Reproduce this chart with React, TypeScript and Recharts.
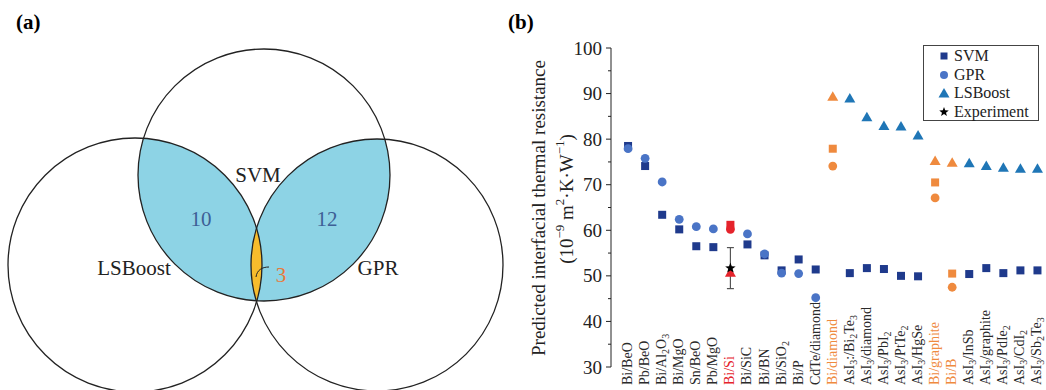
import React from 'react';
import { ScatterChart, Scatter, XAxis, YAxis, Legend, ErrorBar, Surface } from 'recharts';

const SERIF = '"Liberation Serif", "Times New Roman", serif';

// ---- (a) Venn counts ----
const vennSets = ['SVM', 'LSBoost', 'GPR'];
const vennCounts = { svmLsboost: 10, svmGpr: 12, all: 3 };

// ---- (b) predicted interfacial thermal resistance ----
const categories = [
  'Bi/BeO', 'Pb/BeO', 'Bi/Al2O3', 'Bi/MgO', 'Sn/BeO', 'Pb/MgO', 'Bi/Si', 'Bi/SiC', 'Bi/BN',
  'Bi/SiO2', 'Bi/P', 'CdTe/diamond', 'Bi/diamond', 'AsI3:/Bi2Te3', 'AsI3/diamond', 'AsI3/PbI2',
  'AsI3/PtTe2', 'AsI3/HgSe', 'Bi/graphite', 'Bi/B', 'AsI3/InSb', 'AsI3/graphite', 'AsI3/PdIe2',
  'AsI3/CdI2', 'AsI3/Sb2Te3',
];
const svmValues = [
  78.5, 74.1, 63.4, 60.2, 56.5, 56.3, 61.2, 56.9, 54.5, 51.2, 53.6, 51.4, 77.9,
  50.6, 51.7, 51.5, 50.0, 49.9, 70.5, 50.5, 50.4, 51.7, 50.6, 51.2, 51.2,
];
const gprValues = [
  77.9, 75.8, 70.6, 62.4, 60.8, 60.3, 60.2, 59.2, 54.8, 50.6, 50.5, 45.2, 74.1,
  null, null, null, null, null, 67.1, 47.5, null, null, null, null, null,
];
const lsboostValues = [
  null, null, null, null, null, null, 50.7, null, null, null, null, null, 89.3,
  88.9, 84.8, 82.9, 82.8, 80.8, 75.2, 74.8, 74.7, 74.1, 73.7, 73.5, 73.5,
];
const experimentCategory = 'Bi/Si';
const experimentValue = 51.7;
const experimentError = 4.5;
const yTicks = [30, 35, 40, 45, 50, 55, 60, 65, 70, 75, 80, 85, 90, 95, 100];

// highlight colours for special systems
const RED = '#e5232b';
const ORANGE = '#ef8a3e';
const highlight: Record<string, string> = {
  'Bi/Si': RED,
  'Bi/diamond': ORANGE,
  'Bi/graphite': ORANGE,
  'Bi/B': ORANGE,
};
const SVM_COLOR = '#1f3a8c';
const GPR_COLOR = '#4a74c6';
const LSB_COLOR = '#1f76b6';

const toPoints = (values: (number | null)[]) =>
  values
    .map((v, i) => ({ x: i, y: v, cat: categories[i] }))
    .filter((p) => p.y !== null);

const svmPoints = toPoints(svmValues);
const gprPoints = toPoints(gprValues);
const lsbPoints = toPoints(lsboostValues);
const expPoints = [
  { x: categories.indexOf(experimentCategory), y: experimentValue, err: experimentError, cat: experimentCategory },
];

const colorFor = (cat: string, base: string) => highlight[cat] || base;

const renderSquare = (p: any) => (
  <rect x={p.cx - 4} y={p.cy - 4} width={8} height={8} fill={colorFor(p.payload.cat, SVM_COLOR)} />
);
const renderCircle = (p: any) => (
  <circle cx={p.cx} cy={p.cy} r={4.4} fill={colorFor(p.payload.cat, GPR_COLOR)} />
);
const trianglePath = (cx: number, cy: number) =>
  `M${cx},${cy - 5.5} L${cx + 5.5},${cy + 4} L${cx - 5.5},${cy + 4} Z`;
const renderTriangle = (p: any) => (
  <path d={trianglePath(p.cx, p.cy)} fill={colorFor(p.payload.cat, LSB_COLOR)} />
);
const starPath = (cx: number, cy: number, ro: number, ri: number) => {
  let d = '';
  for (let k = 0; k < 10; k++) {
    const r = k % 2 === 0 ? ro : ri;
    const a = -Math.PI / 2 + (k * Math.PI) / 5;
    d += `${k === 0 ? 'M' : 'L'}${cx + r * Math.cos(a)},${cy + r * Math.sin(a)}`;
  }
  return d + 'Z';
};
const renderStar = (p: any) => <path d={starPath(p.cx, p.cy, 5.5, 2.3)} fill="#000" />;

// y axis sits at local x = 111 of the right chart
const AXIS_X = 111;

function YTick(props: any) {
  const { y, payload } = props;
  const major = payload.value % 10 === 0;
  return (
    <g>
      <line x1={AXIS_X - (major ? 5 : 3)} x2={AXIS_X} y1={y} y2={y} stroke="#222" strokeWidth={1} />
      {major && (
        <text x={AXIS_X - 9} y={y} textAnchor="end" dominantBaseline="central"
          fontFamily={SERIF} fontSize={19} fill="#222">
          {payload.value}
        </text>
      )}
    </g>
  );
}

function CatTick(props: any) {
  const { x, payload } = props;
  const name = categories[payload.value];
  if (!name) return null;
  const parts = name.split(/(\d+)/).filter((s) => s.length);
  const tx = x + 4;
  const ty = 385;
  let shifted = false;
  return (
    <text x={tx} y={ty} transform={`rotate(-90, ${tx}, ${ty})`} textAnchor="start"
      fontFamily={SERIF} fontSize={14} fill={highlight[name] || '#2a2a2a'}>
      {parts.map((s, i) => {
        const isSub = /^\d+$/.test(s);
        let dy = 0;
        if (isSub && !shifted) { dy = 3; shifted = true; }
        else if (!isSub && shifted) { dy = -3; shifted = false; }
        return (
          <tspan key={i} dy={dy} fontSize={isSub ? 10 : 14}>{s}</tspan>
        );
      })}
    </text>
  );
}

function YTitle() {
  return (
    <g fontFamily={SERIF} fontSize={19} fill="#222">
      <text x={38} y={208} transform="rotate(-90, 38, 208)" textAnchor="middle" dominantBaseline="central">
        Predicted interfacial thermal resistance
      </text>
      <text x={66} y={199} transform="rotate(-90, 66, 199)" textAnchor="middle" dominantBaseline="central">
        <tspan>(10</tspan>
        <tspan dy={-7} fontSize={13}>−9</tspan>
        <tspan dy={7}> m</tspan>
        <tspan dy={-7} fontSize={13}>2</tspan>
        <tspan dy={7}>·K·W</tspan>
        <tspan dy={-7} fontSize={13}>−1</tspan>
        <tspan dy={7}>)</tspan>
      </text>
    </g>
  );
}

const legendItems = [
  { name: 'SVM', kind: 'square', color: SVM_COLOR },
  { name: 'GPR', kind: 'circle', color: GPR_COLOR },
  { name: 'LSBoost', kind: 'triangle', color: LSB_COLOR },
  { name: 'Experiment', kind: 'star', color: '#000' },
];

function LegendBox() {
  return (
    <div style={{
      border: '1px solid #444', background: '#fff', fontFamily: SERIF, fontSize: 16,
      color: '#222', boxSizing: 'border-box', height: 76, paddingTop: 1,
    }}>
      {legendItems.map((it) => (
        <div key={it.name} style={{ height: 18.6, display: 'flex', alignItems: 'center' }}>
          <svg width={30} height={18} style={{ flex: 'none' }}>
            {it.kind === 'square' && <rect x={16.5} y={5.5} width={7} height={7} fill={it.color} />}
            {it.kind === 'circle' && <circle cx={20} cy={9} r={4} fill={it.color} />}
            {it.kind === 'triangle' && <path d={trianglePath(20, 9.5)} fill={it.color} />}
            {it.kind === 'star' && <path d={starPath(20, 9, 5, 2.1)} fill={it.color} />}
          </svg>
          <span style={{ lineHeight: '18px' }}>{it.name}</span>
        </div>
      ))}
    </div>
  );
}

// Venn layout (pixels)
const venn = {
  svm: { cx: 264, cy: 175, r: 126 },
  lsb: { cx: 135, cy: 265, r: 127 },
  gpr: { cx: 377, cy: 265, r: 126 },
};

function VennDiagram() {
  const { svm, lsb, gpr } = venn;
  const txt = { fontFamily: SERIF, textAnchor: 'middle' as const, dominantBaseline: 'central' as const };
  return (
    <Surface width={520} height={390} viewBox={{ x: 0, y: 0, width: 520, height: 390 }}>
      <defs>
        <clipPath id="clipLsb"><circle cx={lsb.cx} cy={lsb.cy} r={lsb.r} /></clipPath>
        <clipPath id="clipGpr"><circle cx={gpr.cx} cy={gpr.cy} r={gpr.r} /></clipPath>
        <clipPath id="clipSvm"><circle cx={svm.cx} cy={svm.cy} r={svm.r} /></clipPath>
      </defs>
      <circle cx={svm.cx} cy={svm.cy} r={svm.r} fill="#8dd3e5" clipPath="url(#clipLsb)" />
      <circle cx={svm.cx} cy={svm.cy} r={svm.r} fill="#8dd3e5" clipPath="url(#clipGpr)" />
      <g clipPath="url(#clipSvm)">
        <circle cx={lsb.cx} cy={lsb.cy} r={lsb.r} fill="#f7bc2c" clipPath="url(#clipGpr)" />
      </g>
      {[svm, lsb, gpr].map((c, i) => (
        <circle key={i} cx={c.cx} cy={c.cy} r={c.r} fill="none" stroke="#222" strokeWidth={1.3} />
      ))}
      <text x={258} y={175} fontSize={21} fill="#222" {...txt}>{vennSets[0]}</text>
      <text x={134} y={268} fontSize={21} fill="#222" {...txt}>{vennSets[1]}</text>
      <text x={378} y={268} fontSize={21} fill="#222" {...txt}>{vennSets[2]}</text>
      <text x={201} y={219} fontSize={21} fill="#3d5f96" {...txt}>{vennCounts.svmLsboost}</text>
      <text x={327} y={219} fontSize={21} fill="#3d5f96" {...txt}>{vennCounts.svmGpr}</text>
      <text x={281} y={275} fontSize={21} fill="#e8783a" {...txt}>{vennCounts.all}</text>
      <path d="M256,277 C257,270 262,267 269,267" fill="none" stroke="#222" strokeWidth={1} />
    </Surface>
  );
}

export default function App() {
  return (
    <div style={{ position: 'absolute', left: 0, top: 0, width: 1046, height: 390, background: '#fff' }}>
      <div style={{ position: 'absolute', left: 0, top: 0 }}>
        <VennDiagram />
      </div>
      <div style={{ position: 'absolute', left: 16, top: 10, fontFamily: SERIF, fontWeight: 'bold', fontSize: 21 }}>(a)</div>
      <div style={{ position: 'absolute', left: 508, top: 10, fontFamily: SERIF, fontWeight: 'bold', fontSize: 21 }}>(b)</div>
      <div style={{ position: 'absolute', left: 500, top: 0 }}>
        <ScatterChart width={546} height={390} margin={{ top: 48, right: 0, bottom: 0, left: 0 }}>
          <XAxis type="number" dataKey="x" domain={[-1, 24.5]} ticks={categories.map((_, i) => i)}
            interval={0} axisLine={false} tickLine={false} height={23} tick={<CatTick />} />
          <YAxis type="number" dataKey="y" domain={[30, 100]} ticks={yTicks} interval={0} width={AXIS_X}
            axisLine={{ stroke: '#222', strokeWidth: 1 }} tickLine={false} tick={<YTick />} label={<YTitle />} />
          <Legend layout="vertical" align="center" verticalAlign="middle"
            wrapperStyle={{ top: 45, left: 423, width: 116, height: 76 }} content={<LegendBox />} />
          <Scatter name="SVM" data={svmPoints} shape={renderSquare} isAnimationActive={false} />
          <Scatter name="GPR" data={gprPoints} shape={renderCircle} isAnimationActive={false} />
          <Scatter name="LSBoost" data={lsbPoints} shape={renderTriangle} isAnimationActive={false} />
          <Scatter name="Experiment" data={expPoints} shape={renderStar} isAnimationActive={false}>
            <ErrorBar dataKey="err" direction="y" width={3.5} stroke="#555" strokeWidth={1.2} />
          </Scatter>
        </ScatterChart>
      </div>
    </div>
  );
}
